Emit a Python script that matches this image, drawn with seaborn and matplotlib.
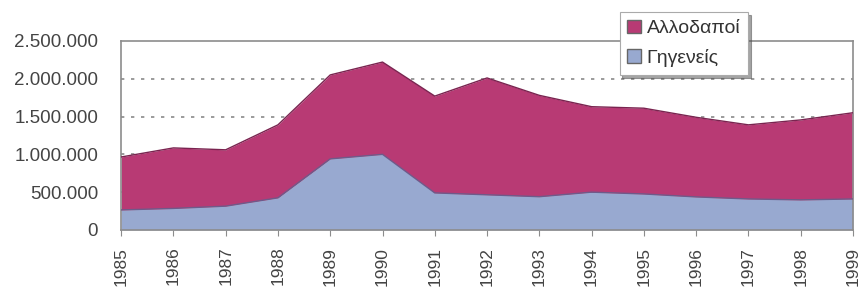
import matplotlib
matplotlib.use("Agg")
import matplotlib.pyplot as plt
import matplotlib.ticker as mticker
from matplotlib.patches import Patch
import seaborn as sns
import pandas as pd

years = [1985, 1986, 1987, 1988, 1989, 1990, 1991, 1992, 1993, 1994,
         1995, 1996, 1997, 1998, 1999]
natives = [265000, 285000, 315000, 425000, 940000, 1000000, 490000, 465000,
           440000, 500000, 476000, 437000, 410000, 398000, 410000]
total = [965000, 1085000, 1060000, 1390000, 2050000, 2220000, 1770000, 2010000,
         1780000, 1630000, 1610000, 1490000, 1390000, 1455000, 1550000]
foreigners = [t - n for t, n in zip(total, natives)]

labels = ["Αλλοδαποί", "Γηγενείς"]
col_for = "#B83A74"
col_nat = "#98A9D0"

df = pd.DataFrame({"year": years, "natives": natives, "total": total})

sns.set_style("white")
plt.rcParams["font.family"] = ["Liberation Sans", "DejaVu Sans"]

fig = plt.figure(figsize=(8.59, 2.90), dpi=100)
ax = fig.add_axes([0.141, 0.207, 0.852, 0.652])

ax.stackplot(df["year"], natives, foreigners, colors=[col_nat, col_for],
             linewidth=0, zorder=2)
sns.lineplot(data=df, x="year", y="natives", ax=ax, color="#6E5A8A",
             linewidth=1, zorder=3)
sns.lineplot(data=df, x="year", y="total", ax=ax, color="#7A2450",
             linewidth=1, zorder=3)

ax.set_xlim(1985, 1999)
ax.set_ylim(0, 2500000)
ax.set_xticks(years)
ax.set_xticklabels([str(y) for y in years], rotation=90)
ax.set_yticks(range(0, 2500001, 500000))
ax.yaxis.set_major_formatter(
    mticker.FuncFormatter(lambda v, p: f"{int(v):,}".replace(",", ".")))
ax.set_xlabel("")
ax.set_ylabel("")

for v in [500000, 1000000, 1500000, 2000000]:
    ax.axhline(v, color="#8A8A8A", linestyle=(0, (2, 4)), linewidth=1.2, zorder=1)

for s in ax.spines.values():
    s.set_color("#8C8C8C")
    s.set_linewidth(1.2)

ax.tick_params(axis="x", bottom=True, length=4, color="#8C8C8C",
               labelsize=12.5, labelcolor="#444444", pad=8)
ax.tick_params(axis="y", left=False, labelsize=13.5, labelcolor="#444444", pad=13)

handles = [Patch(facecolor=col_for, edgecolor="#666666"),
           Patch(facecolor=col_nat, edgecolor="#666666")]
leg = ax.legend(handles, labels, loc="upper left", bbox_to_anchor=(0.681, 1.153),
                frameon=True, fancybox=False, shadow=True, fontsize=14,
                handlelength=0.7, handleheight=0.7, handletextpad=0.3,
                borderpad=0.4, labelspacing=0.6, borderaxespad=0)
leg.get_frame().set_edgecolor("#AAAAAA")
leg.get_frame().set_linewidth(0.8)
for t in leg.get_texts():
    t.set_color("#333333")

fig.savefig("out.png", dpi=100)
